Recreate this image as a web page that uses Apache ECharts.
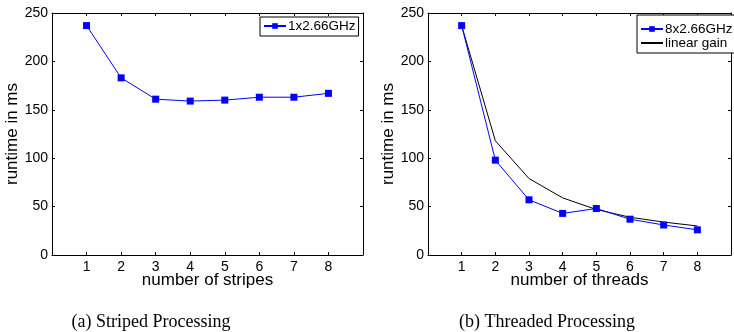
<!DOCTYPE html>
<html><head><meta charset="utf-8">
<script src="https://cdn.jsdelivr.net/npm/echarts@6/dist/echarts.min.js"></script>
<style>html,body{margin:0;padding:0;background:#fff}#c{width:734px;height:332px}</style>
</head><body><div id="c"></div>
<script>
const xTicks = [1, 2, 3, 4, 5, 6, 7, 8];
const stripesRuntime = [237, 183, 161, 159, 160, 163, 163, 167];
const threadsRuntime = [237, 98, 57, 43, 48, 37, 31, 26];
const linearGain = [237, 118, 79, 59, 47, 39, 34, 30];
const yTicks = [0, 50, 100, 150, 200, 250];

const FONT = 'Liberation Sans, Arial, sans-serif';
const chart = echarts.init(document.getElementById('c'), null, {renderer: 'canvas'});

function pairs(vals) { return xTicks.map((x, i) => [x, vals[i]]); }

function xAxes(gi, name) {
  return [
    {gridIndex: gi, type: 'value', min: 0, max: 9, interval: 1, position: 'bottom',
     name: name, nameLocation: 'middle', nameGap: 17, nameMoveOverlap: false,
     nameTextStyle: {fontFamily: FONT, fontSize: 17, color: '#000'},
     axisLine: {onZero: false, lineStyle: {color: '#000', width: 1}},
     axisTick: {inside: true, length: 3, lineStyle: {color: '#000'}},
     axisLabel: {fontFamily: FONT, fontSize: 14, color: '#000', margin: 5,
       formatter: v => (v >= 1 && v <= 8 ? String(v) : '')},
     splitLine: {show: false}},
    {gridIndex: gi, type: 'value', min: 0, max: 9, interval: 1, position: 'top',
     axisLine: {onZero: false, lineStyle: {color: '#000', width: 1}},
     axisTick: {inside: true, length: 3, lineStyle: {color: '#000'}},
     axisLabel: {show: false}, splitLine: {show: false}}
  ];
}
function yAxes(gi) {
  return [
    {gridIndex: gi, type: 'value', min: 0, max: 250, interval: 50, position: 'left',
     name: 'runtime in ms', nameLocation: 'middle', nameGap: 29,
     nameTextStyle: {fontFamily: FONT, fontSize: 17, color: '#000'},
     axisLine: {show: true, onZero: false, lineStyle: {color: '#000', width: 1}},
     axisTick: {show: true, inside: true, length: 3, lineStyle: {color: '#000'}},
     axisLabel: {fontFamily: FONT, fontSize: 14, color: '#000', margin: 4},
     splitLine: {show: false}},
    {gridIndex: gi, type: 'value', min: 0, max: 250, interval: 50, position: 'right',
     axisLine: {show: true, onZero: false, lineStyle: {color: '#000', width: 1}},
     axisTick: {show: true, inside: true, length: 3, lineStyle: {color: '#000'}},
     axisLabel: {show: false}, splitLine: {show: false}}
  ];
}

const legendCommon = {
  backgroundColor: '#fff', borderColor: '#000', borderWidth: 1, borderRadius: 0,
  itemWidth: 22, itemHeight: 7,
  textStyle: {fontFamily: FONT, fontSize: 13.5, color: '#000', padding: [0, 0, 0, -3]}
};

chart.setOption({
  animation: false,
  grid: [
    {left: 52, right: 371, top: 13, bottom: 77},
    {left: 428, right: -6, top: 13, bottom: 77}
  ],
  xAxis: [...xAxes(0, 'number of stripes'), ...xAxes(1, 'number of threads')],
  yAxis: [...yAxes(0), ...yAxes(1)],
  legend: [
    Object.assign({}, legendCommon, {data: ['1x2.66GHz'], left: 260, top: 17, padding: [2, 3, 3, 3], itemGap: 3}),
    Object.assign({}, legendCommon, {
      data: ['8x2.66GHz', {name: 'linear gain', itemStyle: {opacity: 0}}],
      orient: 'vertical', left: 637, top: 15, padding: [7, 10, 3, 3], itemGap: 0})
  ],
  title: [
    {text: '(a) Striped Processing', left: 146, top: 308, textAlign: 'center',
     textStyle: {fontFamily: 'Liberation Serif, serif', fontSize: 18, fontWeight: 'normal', color: '#000'}},
    {text: '(b) Threaded Processing', left: 542, top: 308, textAlign: 'center',
     textStyle: {fontFamily: 'Liberation Serif, serif', fontSize: 18, fontWeight: 'normal', color: '#000'}}
  ],
  series: [
    {name: '1x2.66GHz', type: 'line', xAxisIndex: 0, yAxisIndex: 0, data: pairs(stripesRuntime),
     symbol: 'rect', symbolSize: 7, color: '#0000ff', lineStyle: {width: 1, color: '#0000ff'},
     itemStyle: {color: '#0000ff'}},
    {name: 'linear gain', type: 'line', xAxisIndex: 2, yAxisIndex: 2, data: pairs(linearGain),
     symbol: 'none', color: '#000', lineStyle: {width: 1, color: '#000'}},
    {name: '8x2.66GHz', type: 'line', xAxisIndex: 2, yAxisIndex: 2, data: pairs(threadsRuntime),
     symbol: 'rect', symbolSize: 7, color: '#0000ff', lineStyle: {width: 1, color: '#0000ff'},
     itemStyle: {color: '#0000ff'}}
  ]
});
</script></body></html>
